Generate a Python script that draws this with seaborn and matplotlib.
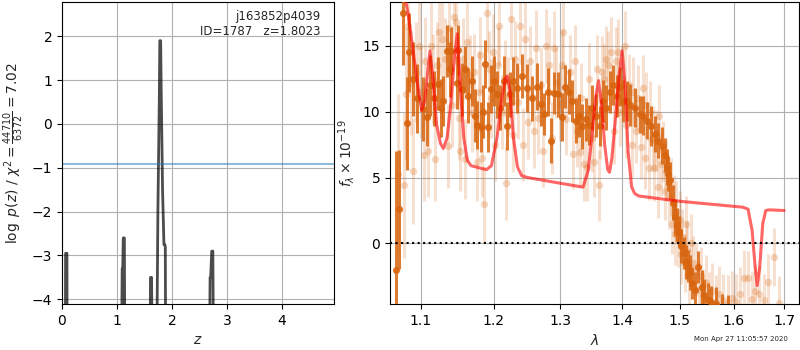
import matplotlib
matplotlib.use("Agg")
import matplotlib.pyplot as plt
from matplotlib.ticker import ScalarFormatter, NullFormatter, NullLocator
import pandas as pd
import seaborn as sns

sns.set_style("ticks")
plt.rcParams["font.family"] = ["DejaVu Sans"]
plt.rcParams["font.size"] = 10

# left panel: log p(z)
z_grid = [0.0, 0.060, 0.065, 0.075, 0.090, 0.095, 1.080, 1.095, 1.105, 1.115,
          1.135, 1.145, 1.600, 1.610, 1.630, 1.645, 1.720, 1.745, 1.770, 1.780,
          1.795, 1.805, 1.830, 1.855, 1.870, 1.880, 1.888, 2.680, 2.695, 2.705,
          2.725, 2.745, 2.760, 4.950]
logp = [-6, -6, -2.95, -2.95, -2.95, -6, -6, -3.3, -3.3, -2.6,
        -2.6, -6, -6, -3.5, -3.5, -6, -6, -2.0, 0.5, 1.9,
        1.9, 0.8, -1.5, -2.75, -2.75, -2.8, -6, -6, -3.5, -3.5,
        -2.9, -2.9, -6, -6]
prior_level = -0.91

# right panel: binned spectrum
dark_lam = [1.068, 1.072, 1.076, 1.082, 1.085, 1.090, 1.095, 1.103, 1.108, 1.112,
            1.117, 1.123, 1.127, 1.130, 1.135, 1.139, 1.141, 1.148, 1.150, 1.155,
            1.160, 1.164, 1.169, 1.174, 1.177, 1.182, 1.185, 1.188, 1.192, 1.196,
            1.200, 1.205, 1.209, 1.215, 1.219, 1.224, 1.229, 1.234, 1.241, 1.249,
            1.257, 1.264, 1.270, 1.275, 1.281, 1.286, 1.291, 1.297, 1.302, 1.307,
            1.313, 1.318, 1.324, 1.329, 1.335, 1.340, 1.346, 1.351, 1.357, 1.363,
            1.368, 1.374, 1.380, 1.385, 1.391, 1.397, 1.402, 1.408, 1.414, 1.422,
            1.430, 1.436, 1.442, 1.450, 1.456, 1.462, 1.468, 1.474, 1.477, 1.480,
            1.483, 1.488, 1.491, 1.495, 1.498, 1.502, 1.507, 1.511, 1.515, 1.519,
            1.523, 1.528, 1.534, 1.540, 1.545, 1.552, 1.558, 1.567, 1.578, 1.590]
dark_flux = [-2.0, 2.6, 17.5, 9.1, 14.5, 12.5, 11.0, 10.2, 9.6, 12.0,
             11.0, 12.1, 10.3, 10.8, 14.6, 13.2, 14.6, 12.2, 14.7, 11.7,
             13.2, 11.2, 12.3, 9.7, 9.0, 8.8, 10.0, 13.6, 8.8, 11.7,
             12.3, 11.3, 10.3, 12.3, 8.9, 11.3, 12.3, 11.8, 12.7, 11.8,
             11.0, 11.9, 10.6, 9.8, 11.5, 7.8, 11.4, 11.3, 9.6, 11.9,
             11.5, 10.8, 9.3, 9.7, 8.9, 9.4, 9.0, 10.3, 9.7, 8.9,
             10.8, 10.3, 11.5, 12.0, 11.2, 11.9, 10.8, 10.8, 10.5, 10.3,
             9.8, 9.7, 9.3, 8.9, 8.3, 7.8, 7.4, 6.7, 5.8, 5.3,
             4.8, 3.1, 2.0, 1.4, 0.9, -0.2, -0.7, -1.4, -1.7, -2.2,
             -3.0, -3.5, -1.8, -3.3, -3.9, -4.3, -4.4, -4.6, -5.0, -5.2]
dark_err = [9.0, 4.5, 4.0, 3.5, 3.0, 2.8, 2.6, 2.4, 2.2, 2.3,
            2.1, 2.0, 2.2, 1.9, 2.0, 2.1, 1.8, 2.0, 1.9, 2.0,
            1.8, 2.1, 1.9, 2.0, 1.8, 1.9, 2.0, 1.8, 1.9, 1.8,
            1.9, 1.8, 1.7, 1.9, 1.8, 1.7, 1.8, 1.9, 1.7, 1.8,
            1.7, 1.8, 1.7, 1.6, 1.8, 1.7, 1.6, 1.7, 1.8, 1.6,
            1.7, 1.6, 1.7, 1.6, 1.7, 1.6, 1.5, 1.7, 1.6, 1.5,
            1.6, 1.7, 1.6, 1.5, 1.6, 1.5, 1.6, 1.5, 1.6, 1.5,
            1.4, 1.5, 1.4, 1.5, 1.4, 1.3, 1.4, 1.3, 1.4, 1.3,
            1.4, 1.3, 1.4, 1.3, 1.2, 1.3, 1.2, 1.3, 1.2, 1.3,
            1.2, 1.3, 1.2, 1.3, 1.2, 1.3, 1.2, 1.3, 1.2, 1.3]

# right panel: unbinned spectrum (faint)
light_lam = [1.070, 1.078, 1.080, 1.083, 1.087, 1.090, 1.093, 1.097, 1.100, 1.104,
             1.106, 1.110, 1.113, 1.116, 1.119, 1.121, 1.124, 1.128, 1.132, 1.136,
             1.138, 1.142, 1.145, 1.147, 1.151, 1.153, 1.157, 1.160, 1.163, 1.166,
             1.170, 1.172, 1.176, 1.179, 1.181, 1.184, 1.187, 1.190, 1.193, 1.197,
             1.199, 1.202, 1.206, 1.208, 1.212, 1.216, 1.218, 1.221, 1.225, 1.228,
             1.231, 1.236, 1.239, 1.243, 1.246, 1.251, 1.254, 1.259, 1.262, 1.266,
             1.271, 1.274, 1.278, 1.283, 1.287, 1.290, 1.294, 1.299, 1.303, 1.305,
             1.309, 1.315, 1.320, 1.323, 1.326, 1.331, 1.333, 1.338, 1.343, 1.346,
             1.350, 1.354, 1.358, 1.361, 1.364, 1.367, 1.370, 1.373, 1.376, 1.382,
             1.386, 1.389, 1.393, 1.396, 1.399, 1.404, 1.407, 1.411, 1.416, 1.419,
             1.424, 1.427, 1.432, 1.435, 1.439, 1.441, 1.445, 1.447, 1.452, 1.455,
             1.458, 1.461, 1.464, 1.467, 1.470, 1.473, 1.476, 1.481, 1.484, 1.486,
             1.489, 1.492, 1.494, 1.497, 1.500, 1.503, 1.505, 1.509, 1.512, 1.514,
             1.517, 1.520, 1.525, 1.530, 1.535, 1.538, 1.543, 1.548, 1.553, 1.560,
             1.566, 1.572, 1.580, 1.590, 1.598, 1.605, 1.613, 1.620, 1.628, 1.635,
             1.642, 1.650, 1.660, 1.668, 1.680, 1.690]
light_flux = [5.3, 4.4, 11.3, 16.5, 12.2, 5.5, 13.0, 15.0, 11.5, 6.7,
              13.8, 7.0, 15.0, 12.5, 6.4, 13.5, 16.0, 15.5, 14.0, 7.4,
              16.3, 10.5, 17.2, 16.8, 9.5, 7.0, 14.0, 6.4, 15.3, 12.8,
              9.9, 13.0, 6.2, 11.5, 14.3, 6.5, 3.0, 17.5, 13.2, 11.0,
              14.5, 7.5, 13.5, 16.5, 10.0, 12.5, 4.6, 11.2, 17.0, 8.2,
              14.0, 10.7, 16.5, 7.5, 15.5, 9.2, 13.8, 8.5, 14.8, 9.5,
              12.0, 7.0, 15.0, 13.5, 8.0, 14.8, 12.2, 10.6, 13.5, 16.0,
              9.4, 13.0, 6.8, 13.8, 8.5, 6.9, 11.0, 6.0, 5.8, 12.5,
              8.0, 6.2, 13.2, 4.4, 9.0, 13.0, 12.5, 14.0, 13.5, 14.5,
              8.5, 13.8, 14.5, 10.0, 12.5, 15.0, 9.0, 12.0, 7.5, 11.5,
              8.5, 11.0, 7.3, 11.8, 6.5, 10.5, 5.7, 10.0, 8.0, 5.7,
              7.8, 4.3, 9.7, 6.0, 7.0, 4.0, 5.5, 3.5, 4.3, 1.5,
              3.0, 0.7, 2.5, 0.3, 1.8, -0.8, 0.5, -1.5, 1.5, -0.5,
              -2.5, 0.0, -1.5, -2.0, -3.5, -2.5, -4.0, -3.0, -4.2, -3.6,
              -4.4, -3.8, -4.3, -4.5, -4.1, -4.4, -3.8, -2.6, -2.6, -4.2,
              -3.6, -3.8, -4.3, -2.9, -1.0, -4.5]
light_err = [6.0, 5.5, 5.0, 4.5, 4.0, 4.0, 3.8, 3.6, 3.5, 3.5,
             3.4, 3.5, 3.3, 3.4, 3.2, 3.3, 3.2, 3.3, 3.1, 3.2,
             3.1, 3.2, 3.0, 3.1, 3.2, 3.0, 3.1, 3.0, 3.1, 3.0,
             3.0, 2.9, 3.0, 3.1, 2.9, 3.0, 2.9, 3.0, 2.9, 3.0,
             2.9, 2.8, 2.9, 3.0, 2.8, 2.9, 2.8, 2.9, 3.0, 2.8,
             2.9, 2.8, 2.9, 2.8, 2.9, 2.8, 2.7, 2.8, 2.9, 2.7,
             2.8, 2.7, 2.8, 2.9, 2.7, 2.8, 2.7, 2.8, 2.7, 2.8,
             2.7, 2.8, 2.7, 2.8, 2.7, 2.6, 2.7, 2.8, 2.6, 2.7,
             2.6, 2.7, 2.6, 2.7, 2.6, 2.7, 2.6, 2.5, 2.6, 2.7,
             2.5, 2.6, 2.5, 2.6, 2.5, 2.6, 2.5, 2.4, 2.5, 2.6,
             2.4, 2.5, 2.4, 2.5, 2.4, 2.5, 2.4, 2.3, 2.4, 2.5,
             2.3, 2.4, 2.3, 2.4, 2.3, 2.2, 2.3, 2.4, 2.2, 2.3,
             2.2, 2.3, 2.2, 2.1, 2.2, 2.3, 2.1, 2.2, 2.1, 2.2,
             2.1, 2.2, 2.1, 2.0, 2.1, 2.2, 2.0, 2.1, 2.0, 2.1,
             2.0, 2.1, 2.0, 2.1, 2.0, 2.1, 2.0, 2.1, 2.0, 2.1,
             2.0, 2.1, 2.0, 2.1, 2.2, 2.0]

# best-fit template
model_lam = [1.078, 1.083, 1.090, 1.097, 1.101, 1.105, 1.109, 1.112, 1.116, 1.121,
             1.126, 1.130, 1.135, 1.140, 1.145, 1.149, 1.153, 1.158, 1.163, 1.168,
             1.175, 1.182, 1.190, 1.197, 1.205, 1.212, 1.217, 1.220, 1.224, 1.229,
             1.235, 1.241, 1.250, 1.290, 1.336, 1.344, 1.350, 1.356, 1.361, 1.366,
             1.371, 1.376, 1.379, 1.383, 1.389, 1.395, 1.400, 1.405, 1.410, 1.416,
             1.421, 1.428, 1.500, 1.618, 1.628, 1.636, 1.642, 1.646, 1.651, 1.657,
             1.663, 1.670, 1.700]
model_flux = [19.0, 17.5, 14.5, 11.5, 10.1, 10.8, 13.0, 14.6, 12.5, 9.0,
              7.6, 7.2, 8.0, 10.5, 14.0, 15.9, 12.0, 8.0, 6.3, 5.9,
              5.8, 5.7, 5.6, 5.9, 8.0, 11.0, 12.5, 12.7, 11.5, 8.0,
              5.8, 5.15, 5.0, 4.65, 4.27, 5.5, 8.0, 11.0, 12.35, 10.5,
              7.5, 5.6, 5.4, 6.5, 9.5, 12.8, 14.6, 12.0, 7.0, 4.3,
              3.8, 3.6, 3.2, 2.75, 2.6, 1.0, -1.8, -3.2, -1.8, 1.5,
              2.5, 2.55, 2.5]

pz = pd.DataFrame({"z": z_grid, "logp": logp})
dark = pd.DataFrame({"lam": dark_lam, "flux": dark_flux, "err": dark_err})
light = pd.DataFrame({"lam": light_lam, "flux": light_flux, "err": light_err})
model = pd.DataFrame({"lam": model_lam, "flux": model_flux})

spec_color = "#d8650f"

fig = plt.figure(figsize=(8, 3.5), dpi=100)
ax1 = fig.add_axes([0.0775, 0.131, 0.34, 0.863])
ax2 = fig.add_axes([0.4875, 0.131, 0.5115, 0.863])

# --- p(z)
sns.lineplot(data=pz, x="z", y="logp", ax=ax1, color="k", alpha=0.7, lw=2,
             sort=False, estimator=None)
ax1.axhline(prior_level, color="C0", alpha=0.5, lw=1.5)
ax1.set_xlim(0, 4.95)
ax1.set_ylim(-4.11, 2.78)
ax1.set_xticks([0, 1, 2, 3, 4])
ax1.set_yticks([-4, -3, -2, -1, 0, 1, 2])
ax1.grid(True, color="#b0b0b0", lw=0.8)
ax1.set_xlabel("$z$")
ax1.set_ylabel(r"$\log\ p(z)$ / $\chi^2=\frac{44710}{6372}=7.02$")
ax1.text(0.95, 0.975, "j163852p4039\nID=1787   z=1.8023", transform=ax1.transAxes,
         ha="right", va="top", fontsize=8.5)

# --- spectrum
ax2.vlines(light["lam"], light["flux"] - light["err"], light["flux"] + light["err"],
           color=spec_color, alpha=0.2, lw=2.2, zorder=2)
sns.scatterplot(data=light, x="lam", y="flux", ax=ax2, color=spec_color, alpha=0.25,
                s=28, linewidth=0, zorder=2)
ax2.vlines(dark["lam"], dark["flux"] - dark["err"], dark["flux"] + dark["err"],
           color=spec_color, alpha=0.85, lw=2.2, zorder=3)
sns.scatterplot(data=dark, x="lam", y="flux", ax=ax2, color=spec_color, alpha=0.9,
                s=26, linewidth=0, zorder=3)
sns.lineplot(data=model, x="lam", y="flux", ax=ax2, color="red", alpha=0.6, lw=2.2,
             sort=False, estimator=None, zorder=4)
ax2.axhline(0, color="k", ls=":", lw=1.5, zorder=5)

ax2.set_xscale("log")
ax2.set_xlim(1.06, 1.731)
ax2.set_ylim(-4.6, 18.3)
ax2.set_xticks([1.1, 1.2, 1.3, 1.4, 1.5, 1.6, 1.7])
ax2.xaxis.set_major_formatter(ScalarFormatter())
ax2.xaxis.set_minor_locator(NullLocator())
ax2.xaxis.set_minor_formatter(NullFormatter())
ax2.set_yticks([0, 5, 10, 15])
ax2.grid(True, color="#b0b0b0", lw=0.8)
ax2.set_axisbelow(True)
ax2.set_xlabel(r"$\lambda$")
ax2.set_ylabel(r"$f_\lambda\times 10^{-19}$")

for ax in (ax1, ax2):
    for sp in ax.spines.values():
        sp.set_color("k")
    ax.tick_params(colors="k")

fig.text(0.985, 0.03, "Mon Apr 27 11:05:57 2020", ha="right", va="center", fontsize=5)

fig.savefig("out.png", dpi=100)
